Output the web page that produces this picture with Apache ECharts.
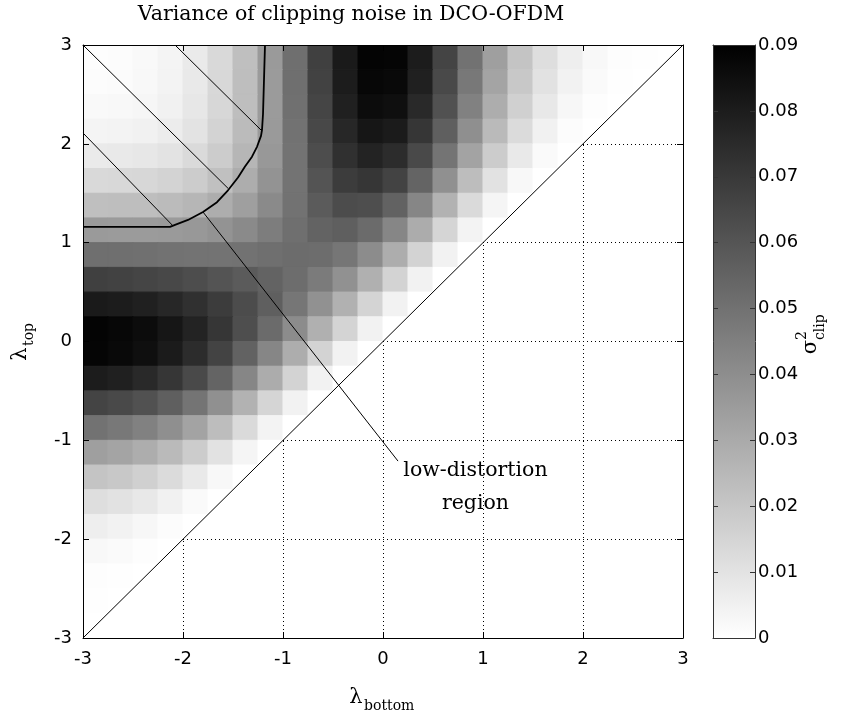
<!DOCTYPE html>
<html>
<head>
<meta charset="utf-8">
<script src="https://cdn.jsdelivr.net/npm/echarts@6/dist/echarts.min.js"></script>
<style>html,body{margin:0;padding:0;background:#fff}#c{width:844px;height:711px}</style>
</head>
<body>
<div id="c"></div>
<script>
// ---------------- data ----------------
// cell centres (lambda_bottom on x, lambda_top on y)
const lambdaCenters = [-2.875,-2.625,-2.375,-2.125,-1.875,-1.625,-1.375,-1.125,-0.875,-0.625,-0.375,-0.125,
                        0.125, 0.375, 0.625, 0.875, 1.125, 1.375, 1.625, 1.875, 2.125, 2.375, 2.625, 2.875];
// sigma_clip^2 rows, top (lambda_top = 2.875) to bottom (lambda_top = -2.875);
// each row runs from lambda_bottom = -2.875 up to the diagonal
const sigmaRows = [
 [0.0006,0.0011,0.0020,0.0039,0.0074,0.0134,0.0227,0.0355,0.0510,0.0673,0.0809,0.0887,0.0884,0.0802,0.0661,0.0496,0.0338,0.0209,0.0117,0.0059,0.0025,0.0008,0.0002,0],
 [0.0011,0.0015,0.0024,0.0043,0.0077,0.0137,0.0228,0.0354,0.0508,0.0667,0.0801,0.0876,0.0870,0.0786,0.0643,0.0478,0.0320,0.0193,0.0103,0.0047,0.0017,0.0003,0],
 [0.0020,0.0024,0.0033,0.0051,0.0085,0.0142,0.0231,0.0354,0.0504,0.0658,0.0787,0.0856,0.0846,0.0757,0.0613,0.0446,0.0290,0.0166,0.0080,0.0030,0.0006,0],
 [0.0039,0.0043,0.0051,0.0068,0.0100,0.0155,0.0239,0.0357,0.0499,0.0645,0.0764,0.0824,0.0806,0.0711,0.0563,0.0397,0.0244,0.0126,0.0050,0.0011,0],
 [0.0074,0.0077,0.0085,0.0100,0.0129,0.0179,0.0256,0.0364,0.0495,0.0627,0.0731,0.0776,0.0745,0.0642,0.0490,0.0325,0.0180,0.0076,0.0017,0],
 [0.0134,0.0137,0.0142,0.0155,0.0179,0.0221,0.0288,0.0382,0.0494,0.0605,0.0687,0.0711,0.0662,0.0546,0.0391,0.0233,0.0104,0.0025,0],
 [0.0227,0.0228,0.0231,0.0239,0.0256,0.0288,0.0340,0.0413,0.0499,0.0580,0.0631,0.0626,0.0555,0.0427,0.0273,0.0131,0.0034,0],
 [0.0355,0.0354,0.0354,0.0357,0.0364,0.0382,0.0413,0.0458,0.0510,0.0552,0.0564,0.0524,0.0428,0.0292,0.0149,0.0041,0],
 [0.0510,0.0508,0.0504,0.0499,0.0495,0.0494,0.0499,0.0510,0.0520,0.0517,0.0484,0.0407,0.0290,0.0157,0.0045,0],
 [0.0673,0.0667,0.0658,0.0645,0.0627,0.0605,0.0580,0.0552,0.0517,0.0466,0.0388,0.0280,0.0156,0.0047,0],
 [0.0809,0.0801,0.0787,0.0764,0.0731,0.0687,0.0631,0.0564,0.0484,0.0388,0.0275,0.0153,0.0047,0],
 [0.0887,0.0876,0.0856,0.0824,0.0776,0.0711,0.0626,0.0524,0.0407,0.0280,0.0153,0.0047,0],
 [0.0884,0.0870,0.0846,0.0806,0.0745,0.0662,0.0555,0.0428,0.0290,0.0156,0.0047,0],
 [0.0802,0.0786,0.0757,0.0711,0.0642,0.0546,0.0427,0.0292,0.0157,0.0047,0],
 [0.0661,0.0643,0.0613,0.0563,0.0490,0.0391,0.0273,0.0149,0.0045,0],
 [0.0496,0.0478,0.0446,0.0397,0.0325,0.0233,0.0131,0.0041,0],
 [0.0338,0.0320,0.0290,0.0244,0.0180,0.0104,0.0034,0],
 [0.0209,0.0193,0.0166,0.0126,0.0076,0.0025,0],
 [0.0117,0.0103,0.0080,0.0050,0.0017,0],
 [0.0059,0.0047,0.0030,0.0011,0],
 [0.0025,0.0017,0.0006,0],
 [0.0008,0.0003,0],
 [0.0002,0],
 [0]
];
const axisTicks = [-3, -2, -1, 0, 1, 2, 3];
const colorRange = [0, 0.09];
const colorStep = 0.01;
// low-distortion region boundary [lambda_bottom, lambda_top]
const boundary = [[-3,1.16],[-2.13,1.16],[-2.08,1.18],[-1.95,1.23],[-1.80,1.31],[-1.66,1.41],[-1.55,1.53],
                  [-1.45,1.66],[-1.38,1.77],[-1.31,1.87],[-1.26,1.97],[-1.22,2.08],[-1.21,2.14],[-1.20,2.30],[-1.18,3]];
const hatchLines = [
  [[-3, 3], [-1.55, 1.55]],
  [[-2.08, 3], [-1.21, 2.13]],
  [[-3, 2.11], [-2.10, 1.17]]
];
const pointerLine = [[-1.80, 1.31], [0.15, -1.21]];
const annotationAt = [0.925, -1.47];
const annotationText = 'low-distortion\nregion';
const titleText = 'Variance of clipping noise in DCO-OFDM';

// ---------------- build ----------------
const serif = '"DejaVu Serif", "Liberation Serif", serif';
const sans = '"DejaVu Sans", "Liberation Sans", sans-serif';
const n = lambdaCenters.length;
const half = (lambdaCenters[1] - lambdaCenters[0]) / 2;
const heatData = [];
sigmaRows.forEach((row, r) => {
  const yv = lambdaCenters[n - 1 - r];
  row.forEach((v, i) => heatData.push([lambdaCenters[i], yv, v]));
});
const xMin = axisTicks[0], xMax = axisTicks[axisTicks.length - 1];
const gridSegs = [];
axisTicks.slice(1, -1).forEach(k => {
  gridSegs.push({coords: [[k, k], [xMax, k]]});
  gridSegs.push({coords: [[k, xMin], [k, k]]});
});

function heatItem(params, api) {
  const x = api.value(0), y = api.value(1);
  const color = api.visual('color');
  const style = {fill: color, stroke: color, lineWidth: 1};
  if (x === y) {
    const p1 = api.coord([x - half, y - half]);
    const p2 = api.coord([x - half, y + half]);
    const p3 = api.coord([x + half, y + half]);
    return {type: 'polygon', shape: {points: [p1, p2, p3]}, style};
  }
  const tl = api.coord([x - half, y + half]);
  const br = api.coord([x + half, y - half]);
  return {type: 'rect', shape: {x: tl[0], y: tl[1], width: br[0] - tl[0], height: br[1] - tl[1]}, style};
}
function colorbarItem(params, api) {
  const p0 = api.coord([api.value(0), api.value(3)]);
  const p1 = api.coord([api.value(1), api.value(2)]);
  return {type: 'rect', shape: {x: p0[0], y: p0[1], width: p1[0] - p0[0], height: p1[1] - p0[1]},
    style: {fill: new echarts.graphic.LinearGradient(0, 0, 0, 1, [{offset: 0, color: '#000'}, {offset: 1, color: '#fff'}])}};
}

const cbEdge = '#333';
const axisCommon = {
  type: 'value', min: xMin, max: xMax, interval: 1, z: 10,
  axisLine: {show: true, onZero: false, lineStyle: {color: '#000', width: 1}},
  axisTick: {show: true, inside: true, length: 6, lineStyle: {color: '#000'}},
  splitLine: {show: false}
};
const tickLabel = {show: true, color: '#000', fontFamily: sans, fontSize: 18};
const cbFrame = {
  gridIndex: 1, type: 'value', min: 0, max: 1, z: 10,
  axisLine: {show: true, onZero: false, lineStyle: {color: cbEdge}},
  axisTick: {show: false}, axisLabel: {show: false}, splitLine: {show: false}
};
const cbAxis = {
  gridIndex: 1, type: 'value', min: colorRange[0], max: colorRange[1], interval: colorStep, z: 10,
  axisLine: {show: true, onZero: false, lineStyle: {color: cbEdge}},
  axisTick: {show: true, inside: true, length: 5, lineStyle: {color: cbEdge}},
  splitLine: {show: false}
};

function txt(text, x, y, size, align, valign) {
  return {type: 'text', x, y, style: {text, fill: '#000', font: size + 'px ' + serif,
    align, verticalAlign: valign, textAlign: align, textVerticalAlign: valign}};
}

const option = {
  animation: false,
  backgroundColor: '#fff',
  grid: [
    {left: 83, top: 45, width: 600, height: 593},
    {left: 713, top: 45, width: 42, height: 593}
  ],
  xAxis: [
    Object.assign({}, axisCommon, {gridIndex: 0, position: 'bottom', axisLabel: Object.assign({}, tickLabel, {margin: 12})}),
    Object.assign({}, axisCommon, {gridIndex: 0, position: 'top', axisLabel: {show: false}}),
    Object.assign({}, cbFrame, {position: 'bottom'}),
    Object.assign({}, cbFrame, {position: 'top'})
  ],
  yAxis: [
    Object.assign({}, axisCommon, {gridIndex: 0, position: 'left', axisLabel: Object.assign({}, tickLabel, {margin: 11})}),
    Object.assign({}, axisCommon, {gridIndex: 0, position: 'right', axisLabel: {show: false}}),
    Object.assign({}, cbAxis, {position: 'right', axisLabel: Object.assign({}, tickLabel, {margin: 3, formatter: v => String(+v.toFixed(2))})}),
    Object.assign({}, cbAxis, {position: 'left', axisLabel: {show: false}})
  ],
  visualMap: {
    type: 'continuous', show: false, seriesIndex: 0, dimension: 2,
    min: colorRange[0], max: colorRange[1], inRange: {color: ['#ffffff', '#000000']}
  },
  series: [
    {type: 'custom', xAxisIndex: 0, yAxisIndex: 0, data: heatData, encode: {x: 0, y: 1},
     renderItem: heatItem, clip: true, silent: true, z: 1},
    {type: 'lines', coordinateSystem: 'cartesian2d', xAxisIndex: 0, yAxisIndex: 0, data: gridSegs,
     lineStyle: {color: '#000', width: 1, type: [1, 3], opacity: 1, curveness: 0}, silent: true, z: 2},
    {type: 'lines', coordinateSystem: 'cartesian2d', xAxisIndex: 0, yAxisIndex: 0,
     data: [{coords: [[xMin, xMin], [xMax, xMax]]}],
     lineStyle: {color: '#000', width: 1, opacity: 1, curveness: 0}, silent: true, z: 3},
    {type: 'lines', coordinateSystem: 'cartesian2d', xAxisIndex: 0, yAxisIndex: 0,
     data: hatchLines.map(c => ({coords: c})).concat([{coords: pointerLine}]),
     lineStyle: {color: '#000', width: 1, opacity: 1, curveness: 0}, silent: true, z: 4},
    {type: 'line', xAxisIndex: 0, yAxisIndex: 0, data: boundary, symbol: 'none', showSymbol: false,
     lineStyle: {color: '#000', width: 1.8}, silent: true, z: 5},
    {type: 'scatter', xAxisIndex: 0, yAxisIndex: 0, data: [annotationAt], symbol: 'circle', symbolSize: 0,
     itemStyle: {color: '#000', opacity: 1}, silent: true, z: 6,
     label: {show: true, position: 'inside', formatter: annotationText, color: '#000', opacity: 1,
             fontFamily: serif, fontSize: 20.5, lineHeight: 33, align: 'center', verticalAlign: 'middle'}},
    {type: 'custom', xAxisIndex: 2, yAxisIndex: 2, data: [[0, 1, colorRange[0], colorRange[1]]],
     encode: {x: [0, 1], y: [2, 3]}, renderItem: colorbarItem, silent: true, z: 1}
  ],
  graphic: [
    txt(titleText, 351, 15, 20.5, 'center', 'middle'),
    {type: 'group', x: 356, y: 698, children: [
      txt('\u03bb', 0, 0, 21, 'center', 'middle'),
      txt('bottom', 8, 8, 14, 'left', 'middle')
    ]},
    {type: 'group', x: 21, y: 354, rotation: Math.PI / 2, children: [
      txt('\u03bb', 0, 0, 21, 'center', 'middle'),
      txt('top', 8, 8, 14, 'left', 'middle')
    ]},
    {type: 'group', x: 811, y: 347, rotation: Math.PI / 2, children: [
      txt('\u03c3', 0, 0, 21, 'center', 'middle'),
      txt('2', 7, -9, 14, 'left', 'middle'),
      txt('clip', 7, 9, 14, 'left', 'middle')
    ]}
  ]
};
const chart = echarts.init(document.getElementById('c'), null, {renderer: 'canvas'});
chart.setOption(option);
</script>
</body>
</html>
